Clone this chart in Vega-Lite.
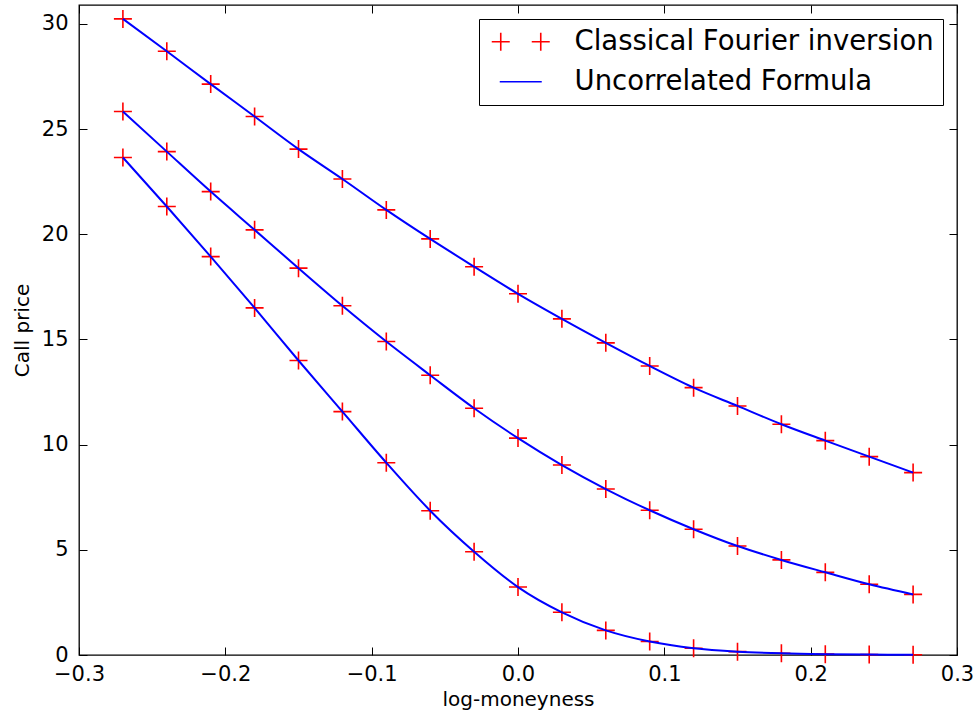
{
  "$schema": "https://vega.github.io/schema/vega-lite/v6.json",
  "width": 878,
  "height": 650,
  "autosize": "none",
  "padding": {"left": 79, "top": 5, "right": 16, "bottom": 60},
  "background": "white",
  "config": {
    "view": {"stroke": "#000", "strokeWidth": 1.3},
    "axis": {
      "labelFont": "DejaVu Sans", "labelFontSize": 21, "labelColor": "#000",
      "titleFont": "DejaVu Sans", "titleFontSize": 20, "titleFontWeight": "normal", "titleColor": "#000",
      "tickColor": "#000", "tickSize": -8, "tickWidth": 1, "grid": false, "domain": false
    },
    "legend": {
      "orient": "top-right", "offset": 14, "title": null,
      "labelFont": "DejaVu Sans", "labelFontSize": 27.5, "labelColor": "#000", "labelLimit": 600,
      "strokeColor": "#000", "fillColor": "white", "padding": 9, "rowPadding": 11,
      "symbolSize": 400, "symbolOffset": 19, "labelOffset": 40, "symbolStrokeWidth": 1.6
    }
  },
  "data": {"values": [
    {"x": -0.27, "y": 30.24, "curve": "a"}, {"x": -0.24, "y": 28.70, "curve": "a"}, {"x": -0.21, "y": 27.14, "curve": "a"},
    {"x": -0.18, "y": 25.60, "curve": "a"}, {"x": -0.15, "y": 24.05, "curve": "a"}, {"x": -0.12, "y": 22.63, "curve": "a"},
    {"x": -0.09, "y": 21.16, "curve": "a"}, {"x": -0.06, "y": 19.78, "curve": "a"}, {"x": -0.03, "y": 18.46, "curve": "a"},
    {"x": 0.0, "y": 17.17, "curve": "a"}, {"x": 0.03, "y": 15.98, "curve": "a"}, {"x": 0.06, "y": 14.84, "curve": "a"},
    {"x": 0.09, "y": 13.74, "curve": "a"}, {"x": 0.12, "y": 12.71, "curve": "a"}, {"x": 0.15, "y": 11.84, "curve": "a"},
    {"x": 0.18, "y": 10.97, "curve": "a"}, {"x": 0.21, "y": 10.19, "curve": "a"}, {"x": 0.24, "y": 9.43, "curve": "a"},
    {"x": 0.27, "y": 8.67, "curve": "a"},
    {"x": -0.27, "y": 25.84, "curve": "b"}, {"x": -0.24, "y": 23.93, "curve": "b"}, {"x": -0.21, "y": 22.03, "curve": "b"},
    {"x": -0.18, "y": 20.21, "curve": "b"}, {"x": -0.15, "y": 18.39, "curve": "b"}, {"x": -0.12, "y": 16.60, "curve": "b"},
    {"x": -0.09, "y": 14.90, "curve": "b"}, {"x": -0.06, "y": 13.30, "curve": "b"}, {"x": -0.03, "y": 11.73, "curve": "b"},
    {"x": 0.0, "y": 10.31, "curve": "b"}, {"x": 0.03, "y": 9.03, "curve": "b"}, {"x": 0.06, "y": 7.89, "curve": "b"},
    {"x": 0.09, "y": 6.88, "curve": "b"}, {"x": 0.12, "y": 5.98, "curve": "b"}, {"x": 0.15, "y": 5.18, "curve": "b"},
    {"x": 0.18, "y": 4.52, "curve": "b"}, {"x": 0.21, "y": 3.93, "curve": "b"}, {"x": 0.24, "y": 3.36, "curve": "b"},
    {"x": 0.27, "y": 2.88, "curve": "b"},
    {"x": -0.27, "y": 23.65, "curve": "c"}, {"x": -0.24, "y": 21.32, "curve": "c"}, {"x": -0.21, "y": 18.94, "curve": "c"},
    {"x": -0.18, "y": 16.50, "curve": "c"}, {"x": -0.15, "y": 14.00, "curve": "c"}, {"x": -0.12, "y": 11.57, "curve": "c"},
    {"x": -0.09, "y": 9.14, "curve": "c"}, {"x": -0.06, "y": 6.86, "curve": "c"}, {"x": -0.03, "y": 4.91, "curve": "c"},
    {"x": 0.0, "y": 3.23, "curve": "c"}, {"x": 0.03, "y": 2.03, "curve": "c"}, {"x": 0.06, "y": 1.17, "curve": "c"},
    {"x": 0.09, "y": 0.64, "curve": "c"}, {"x": 0.12, "y": 0.32, "curve": "c"}, {"x": 0.15, "y": 0.16, "curve": "c"},
    {"x": 0.18, "y": 0.08, "curve": "c"}, {"x": 0.21, "y": 0.04, "curve": "c"}, {"x": 0.24, "y": 0.02, "curve": "c"},
    {"x": 0.27, "y": 0.01, "curve": "c"}
  ]},
  "resolve": {"axis": {"x": "independent", "y": "independent"}},
  "layer": [
    {
      "mark": {"type": "point", "shape": "M-1,0H1M0,-1V1", "filled": false, "size": 324, "strokeWidth": 1.6, "opacity": 1},
      "encoding": {
        "x": {"field": "x", "type": "quantitative", "scale": {"domain": [-0.3, 0.3], "nice": false, "zero": false},
              "axis": {"orient": "bottom", "values": [-0.3, -0.2, -0.1, 0, 0.1, 0.2, 0.3], "format": ".1f", "labelPadding": 16,
                       "labelFlush": false, "labelOverlap": false, "title": "log-moneyness", "titlePadding": 5}},
        "y": {"field": "y", "type": "quantitative", "scale": {"domain": [0, 30.9], "nice": false, "zero": false},
              "axis": {"orient": "left", "values": [0, 5, 10, 15, 20, 25, 30], "labelPadding": 19, "labelFlush": false,
                       "labelOverlap": false, "title": "Call price", "titlePadding": 9}},
        "detail": {"field": "curve"},
        "color": {"datum": "Classical Fourier inversion", "type": "nominal",
                  "scale": {"domain": ["Classical Fourier inversion", "Uncorrelated Formula"], "range": ["#ff0000", "#0000ff"]}}
      }
    },
    {
      "mark": {"type": "line", "strokeWidth": 2, "interpolate": "monotone"},
      "encoding": {
        "x": {"field": "x", "type": "quantitative",
              "axis": {"orient": "top", "values": [-0.3, -0.2, -0.1, 0, 0.1, 0.2, 0.3], "labels": false, "title": null}},
        "y": {"field": "y", "type": "quantitative",
              "axis": {"orient": "right", "values": [0, 5, 10, 15, 20, 25, 30], "labels": false, "title": null}},
        "detail": {"field": "curve"},
        "color": {"datum": "Uncorrelated Formula", "type": "nominal"}
      }
    },
    {
      "transform": [{"filter": "datum.x > 1"}],
      "mark": {"type": "point", "filled": false, "strokeWidth": 1.6, "opacity": 1},
      "encoding": {
        "x": {"field": "x", "type": "quantitative", "axis": null},
        "y": {"field": "y", "type": "quantitative", "axis": null},
        "color": {"datum": "Classical Fourier inversion", "type": "nominal"},
        "shape": {"datum": "Classical Fourier inversion", "type": "nominal",
                  "scale": {"domain": ["Classical Fourier inversion", "Uncorrelated Formula"],
                            "range": ["M-2.9,0H-1.1M-2,-0.9V0.9M1.1,0H2.9M2,-0.9V0.9", "M-2.1,0H2.1"]}}
      }
    }
  ]
}
